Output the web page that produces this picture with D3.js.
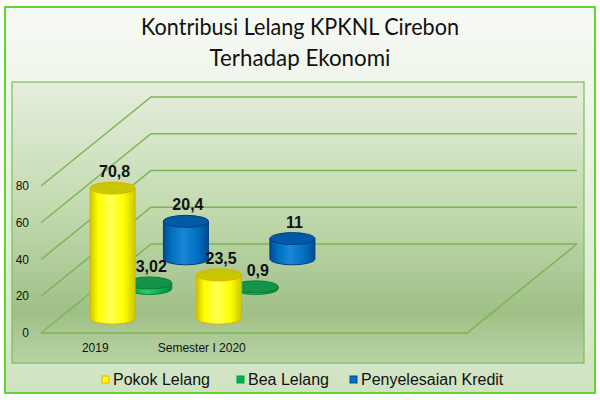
<!DOCTYPE html>
<html>
<head>
<meta charset="utf-8">
<script src="https://cdn.jsdelivr.net/npm/d3@7"></script>
<style>
  html, body { margin: 0; padding: 0; background: #ffffff; }
  svg { display: block; }
</style>
</head>
<body>
<script>
// ---------- data ----------
const titleLines = ["Kontribusi Lelang KPKNL Cirebon", "Terhadap Ekonomi"];
const categories = ["2019", "Semester I 2020"];
const seriesNames = ["Pokok Lelang", "Bea Lelang", "Penyelesaian Kredit"];
const pokokLelang = [70.8, 23.5];
const beaLelang = [3.02, 0.9];
const penyelesaianKredit = [20.4, 11];
const yTicks = [0, 20, 40, 60, 80];

// ---------- layout / style ----------
const W = 600, H = 400;
const slotCount = 4;                 // the floor holds 4 category slots
const floorLeft = 41, floorRight = 467, floorY = 333;
const DX = 110, DY = -89;            // oblique depth offset
const rx = 22.5, ry = 6;
const colors = {
  "Pokok Lelang": { light: "#ffff55", mid: "#ffff00", dark: "#c9c900", top: "#c8c800", stroke: "#e0b000" },
  "Bea Lelang": { light: "#33cc66", mid: "#00b050", dark: "#008a3a", top: "#14944a", stroke: "#0c7a36" },
  "Penyelesaian Kredit": { light: "#1a86d6", mid: "#0070c0", dark: "#004c92", top: "#005aa6", stroke: "#003e80" }
};
const legendSwatch = { "Pokok Lelang": "#ffff00", "Bea Lelang": "#00b050", "Penyelesaian Kredit": "#0070c0" };
const legendStroke = { "Pokok Lelang": "#f0b000", "Bea Lelang": "#00a040", "Penyelesaian Kredit": "#004a90" };

const seriesValues = [pokokLelang, beaLelang, penyelesaianKredit];

const svg = d3.select("body").append("svg").attr("width", W).attr("height", H);
const defs = svg.append("defs");

// background gradients
const bg = defs.append("linearGradient").attr("id", "bgGrad").attr("x1", 0).attr("y1", 0).attr("x2", 0).attr("y2", 1);
bg.append("stop").attr("offset", "0%").attr("stop-color", "#f7faf4");
bg.append("stop").attr("offset", "60%").attr("stop-color", "#e2edda");
bg.append("stop").attr("offset", "100%").attr("stop-color", "#cfe3c1");

const pg = defs.append("linearGradient").attr("id", "plotGrad").attr("x1", 0).attr("y1", 0).attr("x2", 0).attr("y2", 1);
pg.append("stop").attr("offset", "0%").attr("stop-color", "#e6eedf");
pg.append("stop").attr("offset", "45%").attr("stop-color", "#c3daaf");
pg.append("stop").attr("offset", "82%").attr("stop-color", "#9fc087");
pg.append("stop").attr("offset", "100%").attr("stop-color", "#b8d3a4");

seriesNames.forEach((s, i) => {
  const c = colors[s];
  const g = defs.append("linearGradient").attr("id", "body" + i).attr("x1", 0).attr("y1", 0).attr("x2", 1).attr("y2", 0);
  g.append("stop").attr("offset", "0%").attr("stop-color", c.dark);
  g.append("stop").attr("offset", "18%").attr("stop-color", c.mid);
  g.append("stop").attr("offset", "45%").attr("stop-color", c.light);
  g.append("stop").attr("offset", "75%").attr("stop-color", c.mid);
  g.append("stop").attr("offset", "100%").attr("stop-color", c.dark);
});

// outer chart area
svg.append("rect").attr("x", 5).attr("y", 7).attr("width", 590).attr("height", 386)
  .attr("fill", "url(#bgGrad)").attr("stroke", "#5fd632").attr("stroke-width", 2);

// title
const titleG = svg.append("g").attr("font-family", "Lato, 'Open Sans', sans-serif").attr("fill", "#111");
titleG.append("text").attr("x", 300).attr("y", 35).attr("text-anchor", "middle")
  .attr("font-size", 23).attr("textLength", 318).attr("lengthAdjust", "spacingAndGlyphs").text(titleLines[0]);
titleG.append("text").attr("x", 300).attr("y", 66).attr("text-anchor", "middle")
  .attr("font-size", 23).attr("textLength", 181).attr("lengthAdjust", "spacingAndGlyphs").text(titleLines[1]);

// plot area
svg.append("rect").attr("x", 12).attr("y", 82).attr("width", 572).attr("height", 281)
  .attr("fill", "url(#plotGrad)").attr("stroke", "#7cbc5a").attr("stroke-width", 1.2);

// scales
const y = d3.scaleLinear().domain([0, 80]).range([floorY, 186]);
const slotW = (floorRight - floorLeft) / slotCount;
const x = d3.scaleBand().domain(categories).range([floorLeft, floorLeft + slotW * categories.length]).padding(0);
const depth = d3.scaleBand().domain(seriesNames).range([0, 1]);

const gridColor = "#7ab652";
const grid = svg.append("g").attr("stroke", gridColor).attr("stroke-width", 1.5).attr("fill", "none");
// floor
grid.append("path").attr("d", [
  "M", floorLeft, y(0), "L", floorRight, y(0),
  "L", floorRight + DX, y(0) + DY
].join(" "));
// wall lines
yTicks.forEach(t => {
  grid.append("path").attr("d", [
    "M", floorLeft, y(t), "L", floorLeft + DX, y(t) + DY, "L", floorRight + DX, y(t) + DY
  ].join(" "));
});

// y axis labels
svg.append("g").attr("font-family", "'Liberation Sans', Arial, sans-serif").attr("font-size", 12).attr("fill", "#111")
  .selectAll("text").data(yTicks).join("text")
  .attr("x", 29).attr("y", d => y(d) + 4).attr("text-anchor", "end").text(d => d);

// category labels
svg.append("g").attr("font-family", "'Liberation Sans', Arial, sans-serif").attr("font-size", 12).attr("fill", "#111")
  .selectAll("text").data(categories).join("text")
  .attr("x", d => x(d) + x.bandwidth() / 2 + 1).attr("y", 352).attr("text-anchor", "middle").text(d => d);

// cylinders: back series first
const items = [];
seriesNames.forEach((s, si) => {
  categories.forEach((c, ci) => {
    const d = depth(s) + depth.bandwidth() / 2;
    const cx = x(c) + x.bandwidth() / 2 + d * DX;
    const baseY = y(0) + d * DY;
    const topY = y(seriesValues[si][ci]) + d * DY;
    items.push({ s, si, c, ci, d, cx, baseY, topY, v: seriesValues[si][ci] });
  });
});
items.sort((a, b) => b.d - a.d || a.ci - b.ci);

const bars = svg.append("g");
items.forEach(it => {
  const col = colors[it.s];
  const g = bars.append("g");
  g.append("path").attr("d", [
    "M", it.cx - rx, it.topY, "L", it.cx - rx, it.baseY,
    "A", rx, ry, 0, 0, 0, it.cx + rx, it.baseY,
    "L", it.cx + rx, it.topY, "Z"
  ].join(" ")).attr("fill", `url(#body${it.si})`).attr("stroke", col.stroke).attr("stroke-width", 1);
  g.append("ellipse").attr("cx", it.cx).attr("cy", it.topY).attr("rx", rx).attr("ry", ry)
    .attr("fill", col.top).attr("stroke", col.stroke).attr("stroke-width", 1);
});

// data labels
svg.append("g").attr("font-family", "'Liberation Sans', Arial, sans-serif").attr("font-size", 16)
  .attr("font-weight", "bold").attr("fill", "#111")
  .selectAll("text").data(items).join("text")
  .attr("x", d => d.cx + 2).attr("y", d => d.topY - ry - 5).attr("text-anchor", "middle")
  .text(d => String(d.v).replace(".", ","));

// legend
const legendX = [102, 237, 350];
const lg = svg.append("g").attr("font-family", "'Liberation Sans', Arial, sans-serif").attr("font-size", 16).attr("fill", "#111");
seriesNames.forEach((s, i) => {
  lg.append("rect").attr("x", legendX[i]).attr("y", 376).attr("width", 7).attr("height", 7)
    .attr("fill", legendSwatch[s]).attr("stroke", legendStroke[s]).attr("stroke-width", 1);
  lg.append("text").attr("x", legendX[i] + 11).attr("y", 385).text(s);
});
</script>
</body>
</html>
